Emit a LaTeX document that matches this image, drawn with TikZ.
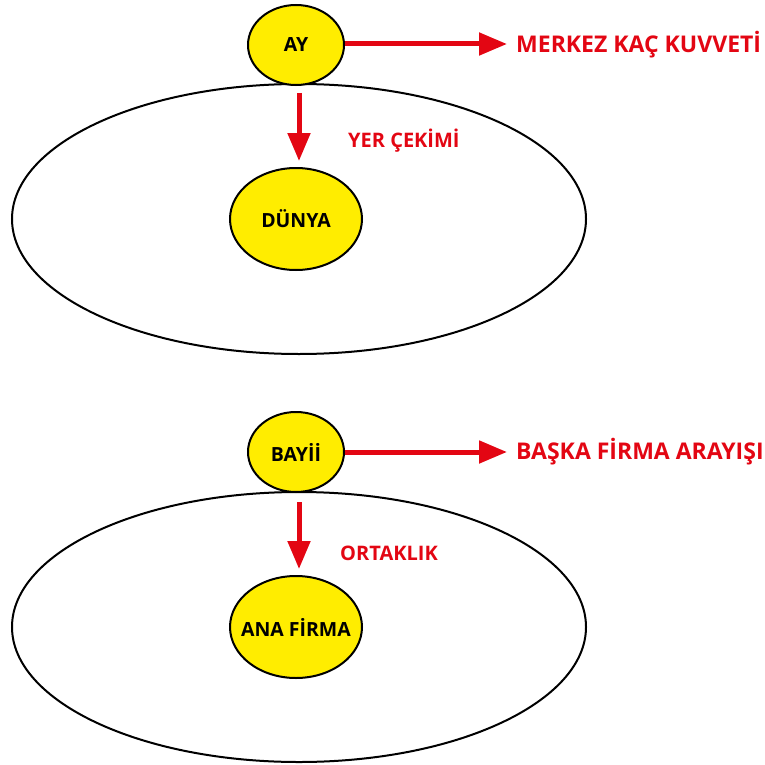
\documentclass[tikz,border=0pt]{standalone}
\usepackage{fontspec}
\setmainfont{Open Sans}
\usetikzlibrary{shapes.geometric,arrows.meta}
\definecolor{kred}{HTML}{E30613}
\definecolor{kyel}{HTML}{FFED00}
\tikzset{
  small/.style={ellipse,draw=black,line width=2pt,fill=kyel,minimum width=96pt,minimum height=80pt,inner sep=0pt,font=\fontsize{19.5}{22}\selectfont\bfseries},
  mid/.style={ellipse,draw=black,line width=2pt,fill=kyel,minimum width=132pt,minimum height=102pt,inner ysep=0pt,inner xsep=-14pt,font=\fontsize{19.5}{22}\selectfont\bfseries},
  big/.style={ellipse,draw=black,line width=2pt,minimum width=574pt,minimum height=270pt,inner sep=0pt},
  redarrow/.style={draw=kred,line width=5pt,-{Triangle[length=28pt,width=22pt]}},
  rlabel/.style={text=kred,anchor=west,inner sep=0pt,font=\fontsize{23}{26}\selectfont\bfseries},
  slabel/.style={text=kred,anchor=west,inner sep=0pt,font=\fontsize{20}{22}\selectfont\bfseries}
}
\begin{document}
\begin{tikzpicture}[x=1pt,y=-1pt]
\useasboundingbox (0,0) rectangle (764,765);
% top
\node[big] (e1) at (299,219) {};
\node[mid] (dunya) at (296,219) {DÜNYA};
\node[small] (ay) at (296,45) {AY};
\coordinate (t1) at (507,44);
\coordinate (d1s) at (299,93);
\coordinate (d1e) at (299,161);
\draw[redarrow] (ay.east |- t1) -- (t1);
\draw[redarrow] (d1s) -- (d1e);
\node[rlabel] (l1) at (516,45) {MERKEZ KAÇ KUVVETİ};
\node[slabel] (l2) at (348,141) {YER ÇEKİMİ};
% bottom
\node[big] (e2) at (299,627) {};
\node[mid] (firma) at (296,627) {ANA FİRMA};
\node[small] (bayi) at (296,452) {BAYİİ};
\coordinate (t2) at (507,452);
\coordinate (d2s) at (299,502);
\coordinate (d2e) at (299,569);
\draw[redarrow] (bayi.east |- t2) -- (t2);
\draw[redarrow] (d2s) -- (d2e);
\node[rlabel] (l3) at (516,452) {BAŞKA FİRMA ARAYIŞI};
\node[slabel] (l4) at (340,553) {ORTAKLIK};
\end{tikzpicture}
\end{document}
